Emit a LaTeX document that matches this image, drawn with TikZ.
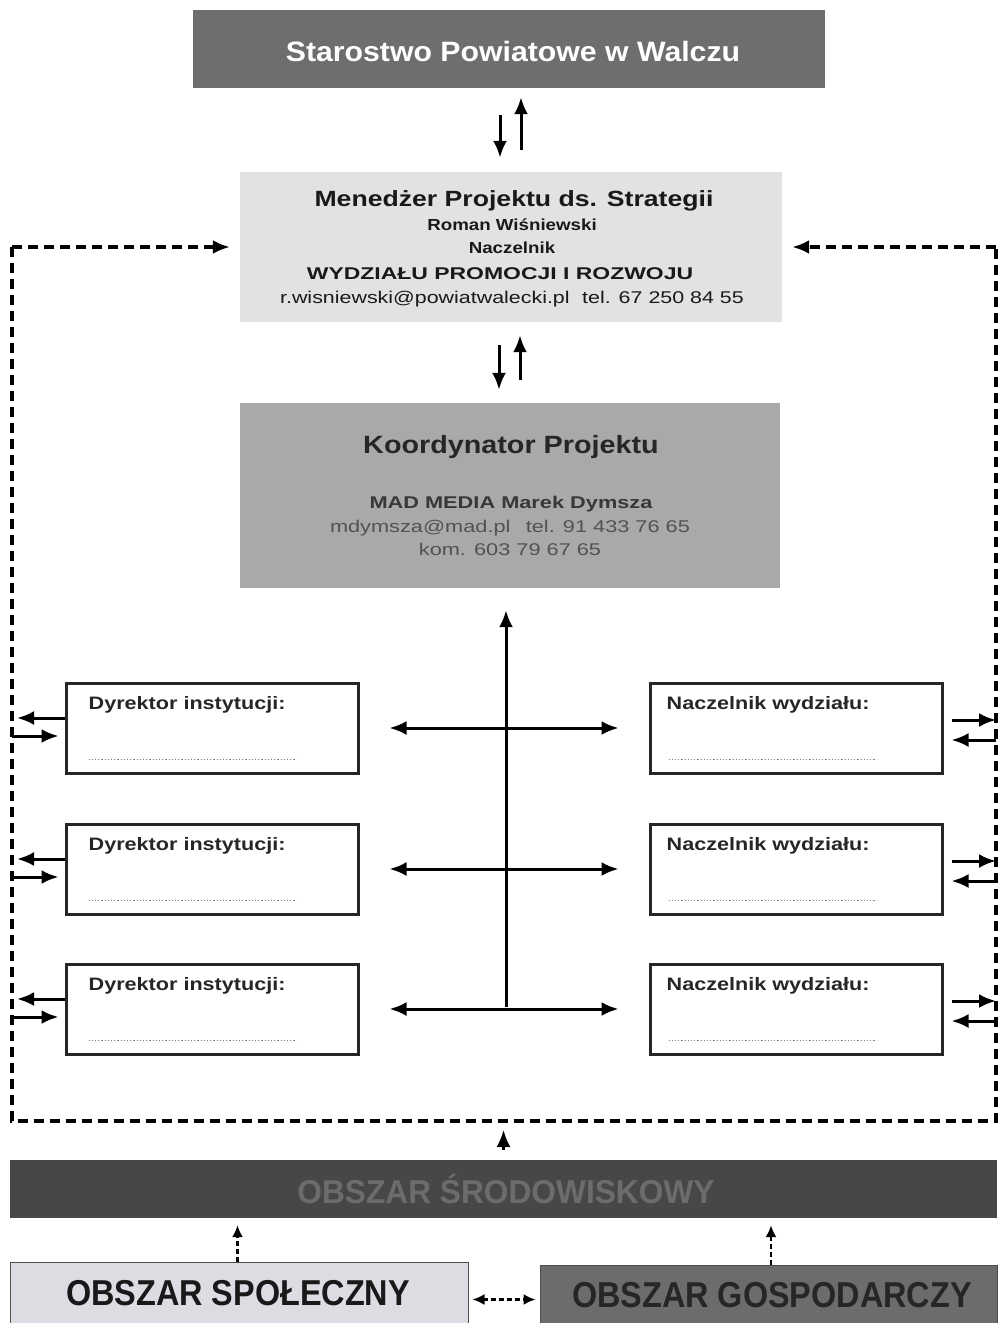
\documentclass[tikz,border=0pt]{standalone}
\usepackage{fontspec}
\setmainfont{Liberation Sans}
\usetikzlibrary{arrows.meta,calc}
\definecolor{stargray}{HTML}{6E6E6E}
\definecolor{mangray}{HTML}{E2E2E2}
\definecolor{koordgray}{HTML}{A9A9A9}
\definecolor{srodgray}{HTML}{474747}
\definecolor{srodtext}{HTML}{6C6C6C}
\definecolor{spolgray}{HTML}{DCDDE3}
\definecolor{gospgray}{HTML}{6C6C6C}
\definecolor{gosptext}{HTML}{262626}
\newcommand{\xs}[2]{\scalebox{#1}[1]{#2}}
\tikzset{
  panel/.style={rectangle, inner sep=0pt, draw=none},
  framed/.style={rectangle, inner sep=0pt, draw=black!85, line width=3pt, fill=white},
  txt/.style={inner sep=0pt, anchor=base},
  tip/.tip={Latex[length=17pt,width=14pt]},
  arr/.style={line width=3pt, -tip},
  darr/.style={line width=3pt, tip-tip},
  frameline/.style={line width=3.2pt, dash pattern=on 10pt off 6pt},
  smallarr/.style={line width=2.2pt, dash pattern=on 5pt off 3pt, -{Latex[length=12pt,width=11pt]}},
  smalldarr/.style={line width=2.2pt, dash pattern=on 5pt off 3pt, {Latex[length=12pt,width=11pt]}-{Latex[length=12pt,width=11pt]}},
  boxtitle/.style={inner sep=0pt, anchor=base west, font=\bfseries\fontsize{18}{18}\selectfont, text=black!85},
  dotline/.style={line width=1.2pt, dotted, gray},
}
\begin{document}
\begin{tikzpicture}[x=1pt,y=-1pt]
\useasboundingbox[fill=white] (0,0) rectangle (997,1323);

% top boxes
\node[panel, fill=stargray, minimum width=632, minimum height=78] (star) at (509,49) {};
\node[txt, text=white, font=\bfseries\fontsize{28}{28}\selectfont] (startxt) at (513,61) {\xs{1.08}{Starostwo Powiatowe w Walczu}};

\node[panel, fill=mangray, minimum width=542, minimum height=150] (man) at (511,247) {};
\node[txt, font=\bfseries\fontsize{22}{22}\selectfont, text=black!90] (m1) at (514,206) {\xs{1.21}{Menedżer Projektu ds. Strategii}};
\node[txt, font=\bfseries\fontsize{16}{16}\selectfont, text=black!90] (m2) at (512,230) {\xs{1.17}{Roman Wiśniewski}};
\node[txt, font=\bfseries\fontsize{16}{16}\selectfont, text=black!90] (m3) at (512,253) {\xs{1.17}{Naczelnik}};
\node[txt, font=\bfseries\fontsize{17}{17}\selectfont, text=black!90] (m4) at (500,279) {\xs{1.35}{WYDZIAŁU PROMOCJI I ROZWOJU}};
\node[txt, font=\fontsize{17}{17}\selectfont, text=black!90] (m5) at (512,303) {\xs{1.26}{r.wisniewski@powiatwalecki.pl\hspace{10pt}tel. 67 250 84 55}};

\node[panel, fill=koordgray, minimum width=540, minimum height=185] (koord) at (510,495.5) {};
\node[txt, font=\bfseries\fontsize{25}{25}\selectfont, text=black!85] (k1) at (511,453) {\xs{1.15}{Koordynator Projektu}};
\node[txt, font=\bfseries\fontsize{17}{17}\selectfont, text=black!78] (k2) at (511,508) {\xs{1.28}{MAD MEDIA Marek Dymsza}};
\node[txt, font=\fontsize{17}{17}\selectfont, text=black!68] (k3) at (510,532) {\xs{1.28}{mdymsza@mad.pl\hspace{12pt}tel. 91 433 76 65}};
\node[txt, font=\fontsize{17}{17}\selectfont, text=black!68] (k4) at (510,555) {\xs{1.28}{kom. 603 79 67 65}};

% arrows between top boxes
\draw[arr, shorten <=27pt, shorten >=14pt] ([xshift=-9pt]star.south) -- ([xshift=-9pt]star.south |- man.north);
\draw[arr, shorten <=22pt, shorten >=9pt] ([xshift=12pt]star.south |- man.north) -- ([xshift=12pt]star.south);
\draw[arr, shorten <=23pt, shorten >=13pt] ([xshift=-12pt]man.south) -- ([xshift=-12pt]man.south |- koord.north);
\draw[arr, shorten <=23pt, shorten >=13pt] ([xshift=9pt]man.south |- koord.north) -- ([xshift=9pt]man.south);

% left and right boxes
\foreach \i/\y in {1/728,2/869,3/1009}{
  \node[framed, minimum width=292, minimum height=90] (l\i) at (212,\y) {};
  \node[boxtitle] (lt\i) at ($(l\i.north west)+(24,28)$) {\xs{1.2}{Dyrektor instytucji:}};
  \draw[dotline] ($(l\i.south west)+(24,-15)$) -- ++(208,0);
  \node[framed, minimum width=292, minimum height=90] (r\i) at (796,\y) {};
  \node[boxtitle] (rt\i) at ($(r\i.north west)+(18,28)$) {\xs{1.2}{Naczelnik wydziału:}};
  \draw[dotline] ($(r\i.south west)+(20,-15)$) -- ++(208,0);
}

% hub
\coordinate (hub) at (506,1007);
\draw[arr, shorten >=22pt] (hub) -- (hub |- koord.south);
\foreach \i in {1,2,3}{
  \draw[darr, shorten <=30pt, shorten >=30pt] (l\i.east) -- (r\i.west);
}

% frame
\coordinate (fl) at (12,0);
\coordinate (fr) at (996,0);
\coordinate (fb) at (0,1121);
\draw[frameline, -tip, shorten >=10pt] (man.west -| fl) -- (man.west);
\draw[frameline, -tip, shorten >=10pt] (man.east -| fr) -- (man.east);
\draw[frameline] (man.west -| fl) -- (fl |- fb) -- (fr |- fb) -- (man.east -| fr);

% side arrows
\foreach \i in {1,2,3}{
  \draw[arr, shorten >=5pt] ([yshift=10pt]l\i.west) -- ([yshift=10pt]l\i.west -| fl);
  \draw[arr, shorten >=6pt] ([yshift=-8pt]l\i.west -| fl) -- ([yshift=-8pt]l\i.west);
  \draw[arr, shorten <=8pt] ([yshift=8pt]r\i.east) -- ([yshift=8pt]r\i.east -| fr);
  \draw[arr, shorten >=8pt] ([yshift=-12pt]r\i.east -| fr) -- ([yshift=-12pt]r\i.east);
}

% bottom areas
\node[panel, fill=srodgray, minimum width=987, minimum height=58] (srod) at (503.5,1189) {};
\node[txt, text=srodtext, font=\bfseries\fontsize{33}{33}\selectfont] (srodtxt) at (506,1203) {\xs{0.96}{OBSZAR ŚRODOWISKOWY}};
\node[panel, fill=spolgray, draw=black!70, line width=1pt, minimum width=458, minimum height=61] (spol) at (239,1292.5) {};
\node[txt, font=\bfseries\fontsize{36}{36}\selectfont, text=black!90] (spoltxt) at (238,1305) {\xs{0.9}{OBSZAR SPOŁECZNY}};
\node[panel, fill=gospgray, draw=black!70, line width=1pt, minimum width=457, minimum height=58] (gosp) at (768.5,1294) {};
\node[txt, text=gosptext, font=\bfseries\fontsize{36}{36}\selectfont] (gosptxt) at (772,1307) {\xs{0.9}{OBSZAR GOSPODARCZY}};

\draw[arr, line width=2.4pt, shorten <=10pt, shorten >=9pt] (srod.north) -- (srod.north |- fb);
\draw[smallarr, shorten >=7pt] ([xshift=-1.5pt]spol.north) -- ([xshift=-1.5pt]spol.north |- srod.south);
\draw[smallarr, shorten >=7pt] ([xshift=2.5pt]gosp.north) -- ([xshift=2.5pt]gosp.north |- srod.south);
\draw[smalldarr, shorten <=4pt, shorten >=4pt] ([yshift=-7pt]spol.east) -- ([yshift=-7pt]spol.east -| gosp.west);
\end{tikzpicture}
\end{document}
